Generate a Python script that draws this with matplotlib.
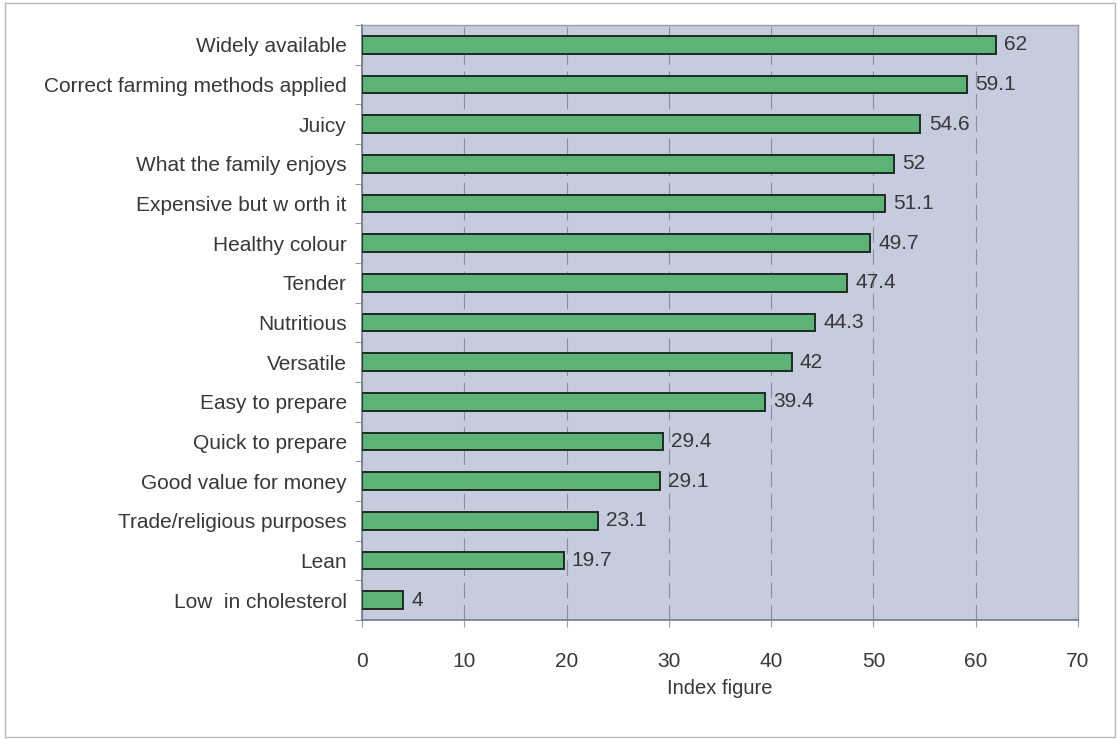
import matplotlib
matplotlib.use("Agg")
import matplotlib.pyplot as plt
from matplotlib.patches import Rectangle

categories = [
    "Widely available",
    "Correct farming methods applied",
    "Juicy",
    "What the family enjoys",
    "Expensive but w orth it",
    "Healthy colour",
    "Tender",
    "Nutritious",
    "Versatile",
    "Easy to prepare",
    "Quick to prepare",
    "Good value for money",
    "Trade/religious purposes",
    "Lean",
    "Low  in cholesterol",
]
values = [62, 59.1, 54.6, 52, 51.1, 49.7, 47.4, 44.3, 42, 39.4, 29.4, 29.1, 23.1, 19.7, 4]
value_labels = ["62", "59.1", "54.6", "52", "51.1", "49.7", "47.4", "44.3", "42",
                "39.4", "29.4", "29.1", "23.1", "19.7", "4"]
x_ticks = [0, 10, 20, 30, 40, 50, 60, 70]
x_label = "Index figure"

plt.rcParams["font.family"] = ["Liberation Sans", "DejaVu Sans"]
text_color = "#383838"
fs = 15

fig = plt.figure(figsize=(11.17, 7.39), dpi=100)
fig.patch.set_facecolor("white")
fig.patches.append(Rectangle((5 / 1117, 2 / 739), 1110 / 1117, 734 / 739, transform=fig.transFigure,
                             fill=False, edgecolor="#b8b8b8", linewidth=1.0))

ax = fig.add_axes([362 / 1117, 1 - 620 / 739, (1078 - 362) / 1117, (620 - 25) / 739])
ax.set_facecolor("#c6cbdd")

y = list(range(len(categories)))
ax.barh(y, values, height=0.45, color="#5cb277", edgecolor="#1f2a22", linewidth=1.4, zorder=3)
for yi, v, lab in zip(y, values, value_labels):
    ax.text(v + 0.8, yi, lab, va="center", ha="left", fontsize=fs, color=text_color, zorder=4)

ax.set_ylim(len(categories) - 0.5, -0.5)
ax.set_xlim(0, 70)
ax.set_yticks(y)
ax.set_yticklabels(categories, fontsize=fs, color=text_color)
ax.set_xticks(x_ticks)
ax.set_xticklabels([str(t) for t in x_ticks], fontsize=fs, color=text_color)
ax.set_xlabel(x_label, fontsize=fs - 0.5, color=text_color, labelpad=6)

ax.xaxis.grid(True, linestyle=(0, (14, 6)), color="#8a8e9a", linewidth=0.8, zorder=1)
ax.set_axisbelow(True)

# y ticks sit between categories
ax.set_yticks([i + 0.5 for i in range(-1, len(categories))], minor=True)
ax.tick_params(axis="y", which="major", length=0, pad=11)
ax.tick_params(axis="y", which="minor", length=5, color="#7f8594", direction="out")
ax.tick_params(axis="x", which="major", length=5, color="#9a9eaa", direction="out", pad=18)

for side in ["left", "bottom"]:
    ax.spines[side].set_color("#6f7890")
    ax.spines[side].set_linewidth(1.2)
for side in ["top", "right"]:
    ax.spines[side].set_color("#9a9eaa")
    ax.spines[side].set_linewidth(1.0)

fig.savefig("out.png", dpi=100, facecolor="white")
